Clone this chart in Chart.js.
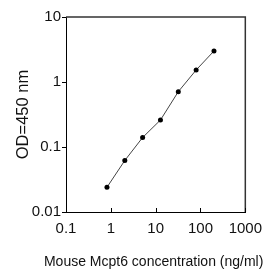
<!DOCTYPE html>
<html>
<head>
<meta charset="utf-8">
<script src="https://cdn.jsdelivr.net/npm/chart.js@4.4.1/dist/chart.umd.min.js"></script>
<style>
  html, body { margin: 0; padding: 0; background: #fff; }
  #wrap { width: 270px; height: 272px; position: relative; }
</style>
</head>
<body>
<div id="wrap"><canvas id="chart"></canvas></div>
<script>
// concentration (ng/ml) and OD readings
const concentrations = [0.82, 2.05, 5.12, 12.8, 32, 80, 200];
const odValues = [0.024, 0.062, 0.14, 0.26, 0.71, 1.53, 3.0];
const xTicks = [0.1, 1, 10, 100, 1000];
const yTicks = [0.01, 0.1, 1, 10];
const xTitle = "Mouse Mcpt6 concentration (ng/ml)";

const fontFamily = "Arial, Helvetica, sans-serif";

// frame on top/right, inside ticks on the x axis, and the x title
// (the built-in title gets squeezed to the axis width, so draw it here)
const framePlugin = {
    id: "frame",
    afterDraw(chart) {
        const { ctx, chartArea } = chart;
        const xs = chart.scales.x;
        ctx.save();
        ctx.strokeStyle = "#333";
        ctx.lineWidth = 1.5;
        ctx.beginPath();
        ctx.moveTo(chartArea.left, chartArea.top);
        ctx.lineTo(chartArea.right, chartArea.top);
        ctx.lineTo(chartArea.right, chartArea.bottom);
        ctx.stroke();
        ctx.strokeStyle = "#000";
        ctx.lineWidth = 1;
        xTicks.forEach(v => {
            const px = Math.round(xs.getPixelForValue(v)) + 0.5;
            ctx.beginPath();
            ctx.moveTo(px, chartArea.bottom);
            ctx.lineTo(px, chartArea.bottom - 4);
            ctx.stroke();
        });
        ctx.fillStyle = "#111";
        ctx.font = "14px " + fontFamily;
        ctx.textAlign = "center";
        ctx.textBaseline = "middle";
        ctx.fillText(xTitle, (chartArea.left + chartArea.right) / 2 - 2, xs.bottom - 10);
        ctx.restore();
    }
};

new Chart(document.getElementById("chart"), {
    type: "line",
    data: {
        datasets: [{
            data: concentrations.map((c, i) => ({ x: c, y: odValues[i] })),
            borderColor: "#444",
            borderWidth: 1,
            pointBackgroundColor: "#000",
            pointBorderColor: "#000",
            pointRadius: 2.5,
            pointBorderWidth: 0,
            tension: 0,
            fill: false
        }]
    },
    options: {
        responsive: true,
        maintainAspectRatio: false,
        animation: false,
        events: [],
        layout: { padding: { top: 17, right: 17, left: 0, bottom: 0 } },
        plugins: { legend: { display: false }, tooltip: { enabled: false } },
        scales: {
            x: {
                type: "logarithmic",
                min: 0.1,
                max: 1000,
                afterBuildTicks: s => { s.ticks = xTicks.map(v => ({ value: v })); },
                afterFit: s => { s.height = 60; },
                border: { color: "#000", width: 1 },
                grid: { display: true, drawOnChartArea: false, drawTicks: false },
                ticks: {
                    autoSkip: false,
                    maxRotation: 0,
                    padding: 8,
                    color: "#111",
                    font: { family: fontFamily, size: 15 },
                    callback: v => String(v)
                },
                title: { display: false }
            },
            y: {
                type: "logarithmic",
                min: 0.01,
                max: 10,
                afterBuildTicks: s => { s.ticks = yTicks.map(v => ({ value: v })); },
                afterFit: s => { s.width = 66; },
                border: { color: "#000", width: 1 },
                grid: { display: true, drawOnChartArea: false, drawTicks: true, tickLength: 4, color: "#000" },
                ticks: {
                    autoSkip: false,
                    padding: 1,
                    color: "#111",
                    font: { family: fontFamily, size: 15 },
                    callback: v => String(v)
                },
                title: {
                    display: true,
                    text: "OD=450 nm",
                    color: "#111",
                    font: { family: fontFamily, size: 16.5 },
                    padding: { top: 14, bottom: 0 }
                }
            }
        }
    },
    plugins: [framePlugin]
});
</script>
</body>
</html>
